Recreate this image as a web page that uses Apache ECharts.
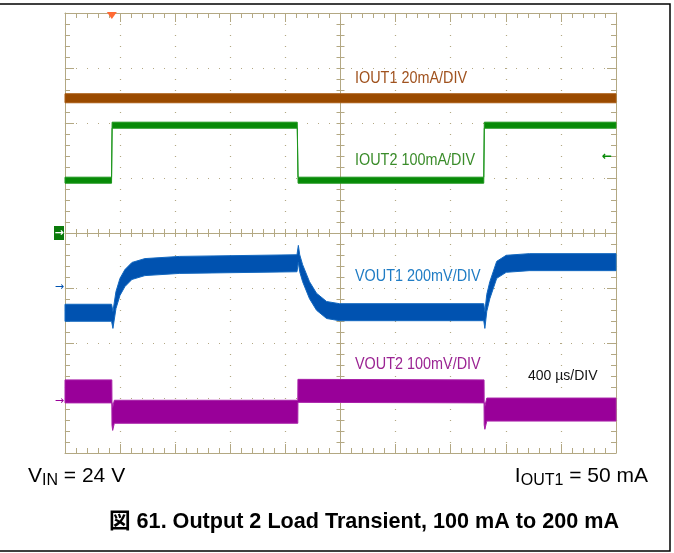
<!DOCTYPE html>
<html>
<head>
<meta charset="utf-8">
<script src="https://cdn.jsdelivr.net/npm/echarts@6/dist/echarts.min.js"></script>
<style>
html, body { margin: 0; padding: 0; background: #fff; }
#chart { width: 674px; height: 553px; }
</style>
</head>
<body>
<div id="chart"></div>
<script>
// time in microseconds (400 us/div), level in screen divisions (0 = bottom, 8 = top)
const timeMin = 0, timeMax = 4000, timeStep = 400;
const divMin = 0, divMax = 8, divStep = 1;

const iout1Time  = [0, 4000];
const iout1Level = [6.45, 6.45];

const iout2Time  = [0, 338, 342, 1686, 1692, 3040, 3044, 4000];
const iout2Level = [4.96, 4.96, 5.96, 5.96, 4.96, 4.96, 5.96, 5.96];

const vout1Time  = [0, 338, 348, 370, 399, 435, 486, 580, 833, 1684, 1694, 1704, 1725, 1775, 1826, 1899, 1993, 3040, 3048, 3062, 3084, 3134, 3203, 3370, 4000];
const vout1Level = [2.55, 2.55, 2.42, 2.78, 3.02, 3.18, 3.31, 3.38, 3.42, 3.45, 3.62, 3.45, 3.27, 2.96, 2.75, 2.60, 2.56, 2.56, 2.42, 2.73, 2.96, 3.33, 3.44, 3.47, 3.47];

const vout2Time  = [0, 340, 341, 346, 358, 1690, 1691, 3042, 3043, 3048, 3062, 4000];
const vout2Level = [1.12, 1.12, 0.72, 0.62, 0.75, 0.75, 1.13, 1.12, 0.72, 0.64, 0.79, 0.79];

const channelNames  = ['IOUT1 20mA/DIV', 'IOUT2 100mA/DIV', 'VOUT1 200mV/DIV', 'VOUT2 100mV/DIV'];
const channelColors = ['#9a4a00', '#078a07', '#0052b0', '#990099'];
const edgeColors    = ['#a85a10', '#1c961c', '#1268c0', '#a820a8'];
const labelColors   = ['#a0521e', '#3a8c2a', '#1f7cc4', '#9b2493'];
const bandHalfPx    = [4.5, 3, 8.5, 11.5];

// reference level markers on the left edge (divisions)
const groundLevels = [4.0, 3.02, 0.95];
const triggerTime = 340;
const iout2ArrowLevel = 5.38;

const timeNote = '400 \u00b5s/DIV';
const titleText = '\u56f3 61. Output 2 Load Transient, 100 mA to 200 mA';

const tan = '#b3a883';
const pairs = (t, v) => t.map((x, i) => [x, v[i]]);

function scopeAxis(kind, pos, offset, inside, tickLen, minorLen, showLine, split) {
    const ax = {
        type: 'value',
        min: kind === 'x' ? timeMin : divMin,
        max: kind === 'x' ? timeMax : divMax,
        interval: kind === 'x' ? timeStep : divStep,
        position: pos,
        offset: offset,
        axisLine: { show: showLine, onZero: false, lineStyle: { color: tan, width: 1 } },
        axisTick: { show: true, inside: inside, length: tickLen, lineStyle: { color: tan, width: 1 } },
        minorTick: { show: true, splitNumber: 5, length: minorLen, lineStyle: { color: tan, width: 1 } },
        axisLabel: { show: false },
        splitLine: { show: false }
    };
    if (split) {
        ax.splitLine = { show: true, lineStyle: { color: tan, width: 1.2, type: split } };
    }
    return ax;
}

// a noisy scope trace drawn as a band around its centre level
function bandSeries(times, levels, halfPx, color, edge, name) {
    const data = pairs(times, levels);
    return {
        type: 'custom',
        name: name,
        xAxisIndex: 0,
        yAxisIndex: 0,
        data: data,
        z: 5,
        renderItem: function (params, api) {
            if (params.dataIndex !== 0) return null;
            const pts = data.map(d => api.coord(d));
            const upper = pts.map(p => [p[0], p[1] - halfPx]);
            const lower = pts.slice().reverse().map(p => [p[0], p[1] + halfPx]);
            return {
                type: 'polygon',
                shape: { points: upper.concat(lower) },
                style: { fill: color, stroke: edge, lineWidth: 1 }
            };
        }
    };
}

const chart = echarts.init(document.getElementById('chart'));

const traces = [
    [iout1Time, iout1Level],
    [iout2Time, iout2Level],
    [vout1Time, vout1Level],
    [vout2Time, vout2Level]
];

chart.setOption({
    animation: false,
    backgroundColor: '#fff',
    grid: { left: 65, top: 13, width: 551, height: 440, show: false },
    xAxis: [
        scopeAxis('x', 'bottom', 0, true, 9, 5, true, [1, 10]),
        scopeAxis('x', 'top', 0, true, 9, 5, true),
        scopeAxis('x', 'bottom', -220, true, 4, 4, true),
        scopeAxis('x', 'bottom', -220, false, 4, 4, false)
    ],
    yAxis: [
        scopeAxis('y', 'left', 0, true, 9, 5, true, [1, 10]),
        scopeAxis('y', 'right', 0, true, 9, 5, true),
        scopeAxis('y', 'left', -275.5, true, 4, 4, true),
        scopeAxis('y', 'left', -275.5, false, 4, 4, false)
    ],
    series: traces.map((s, i) => bandSeries(s[0], s[1], bandHalfPx[i], channelColors[i], edgeColors[i], channelNames[i]))
});

const px = (t, d) => chart.convertToPixel({ xAxisIndex: 0, yAxisIndex: 0 }, [t, d]);
const labelFont = '16px "Liberation Sans", Arial, sans-serif';
const labelPos = [[355, 79], [355, 161], [355, 277], [355, 365]];

const graphics = [];

// frame
graphics.push({
    type: 'rect',
    shape: { x: -1, y: 4, width: 671, height: 547 },
    style: { fill: 'none', stroke: '#000', lineWidth: 1.5 },
    z: 0
});

channelNames.forEach((name, i) => {
    graphics.push({
        type: 'text', x: labelPos[i][0], y: labelPos[i][1], scaleX: 0.9, z: 10,
        style: { text: name, font: labelFont, fill: labelColors[i], verticalAlign: 'middle' }
    });
});

graphics.push({
    type: 'text', x: 528, y: 376, z: 10,
    style: { text: timeNote, font: '14px "Liberation Sans", Arial, sans-serif', fill: '#111', verticalAlign: 'middle' }
});

// trigger marker
const trig = px(triggerTime, divMax);
graphics.push({
    type: 'polygon', z: 10,
    shape: { points: [[trig[0] - 5, trig[1] - 1], [trig[0] + 5, trig[1] - 1], [trig[0], trig[1] + 6]] },
    style: { fill: '#ff6a33' }
});

// ground markers on left edge
const gIout2 = px(timeMin, groundLevels[0]);
graphics.push({
    type: 'rect', z: 10,
    shape: { x: gIout2[0] - 11, y: gIout2[1] - 7, width: 10, height: 14 },
    style: { fill: '#0a7a0a' }
});
graphics.push({
    type: 'text', x: gIout2[0] - 6, y: gIout2[1], z: 11,
    style: { text: '\u2192', font: 'bold 11px "DejaVu Sans", sans-serif', fill: '#fff', align: 'center', verticalAlign: 'middle' }
});
[[groundLevels[1], channelColors[2]], [groundLevels[2], channelColors[3]]].forEach(g => {
    const p = px(timeMin, g[0]);
    graphics.push({
        type: 'text', x: p[0] - 1, y: p[1], z: 11,
        style: { text: '\u2192', font: '11px "DejaVu Sans", sans-serif', fill: g[1], align: 'right', verticalAlign: 'middle' }
    });
});
const arr = px(timeMax, iout2ArrowLevel);
graphics.push({
    type: 'text', x: arr[0] - 4, y: arr[1], z: 11,
    style: { text: '\u2190', font: 'bold 12px "DejaVu Sans", sans-serif', fill: channelColors[1], align: 'right', verticalAlign: 'middle' }
});

// conditions and caption
const bottomFont = '21px "Liberation Sans", Arial, sans-serif';
const subRich = { sub: { fontSize: 16, fontFamily: 'Liberation Sans', verticalAlign: 'bottom', lineHeight: 26 } };
graphics.push({
    type: 'text', x: 28, y: 476, z: 10,
    style: { text: 'V{sub|IN} = 24 V', font: bottomFont, fill: '#000', verticalAlign: 'middle', rich: subRich }
});
graphics.push({
    type: 'text', x: 648, y: 476, z: 10,
    style: { text: 'I{sub|OUT1} = 50 mA', font: bottomFont, fill: '#000', align: 'right', verticalAlign: 'middle', rich: subRich }
});
graphics.push({
    type: 'text', x: 364, y: 522, z: 10,
    style: { text: titleText, font: 'bold 21.6px "Liberation Sans", "Noto Sans CJK JP", Arial, sans-serif', fill: '#000', align: 'center', verticalAlign: 'middle' }
});

chart.setOption({ graphic: graphics });
</script>
</body>
</html>
